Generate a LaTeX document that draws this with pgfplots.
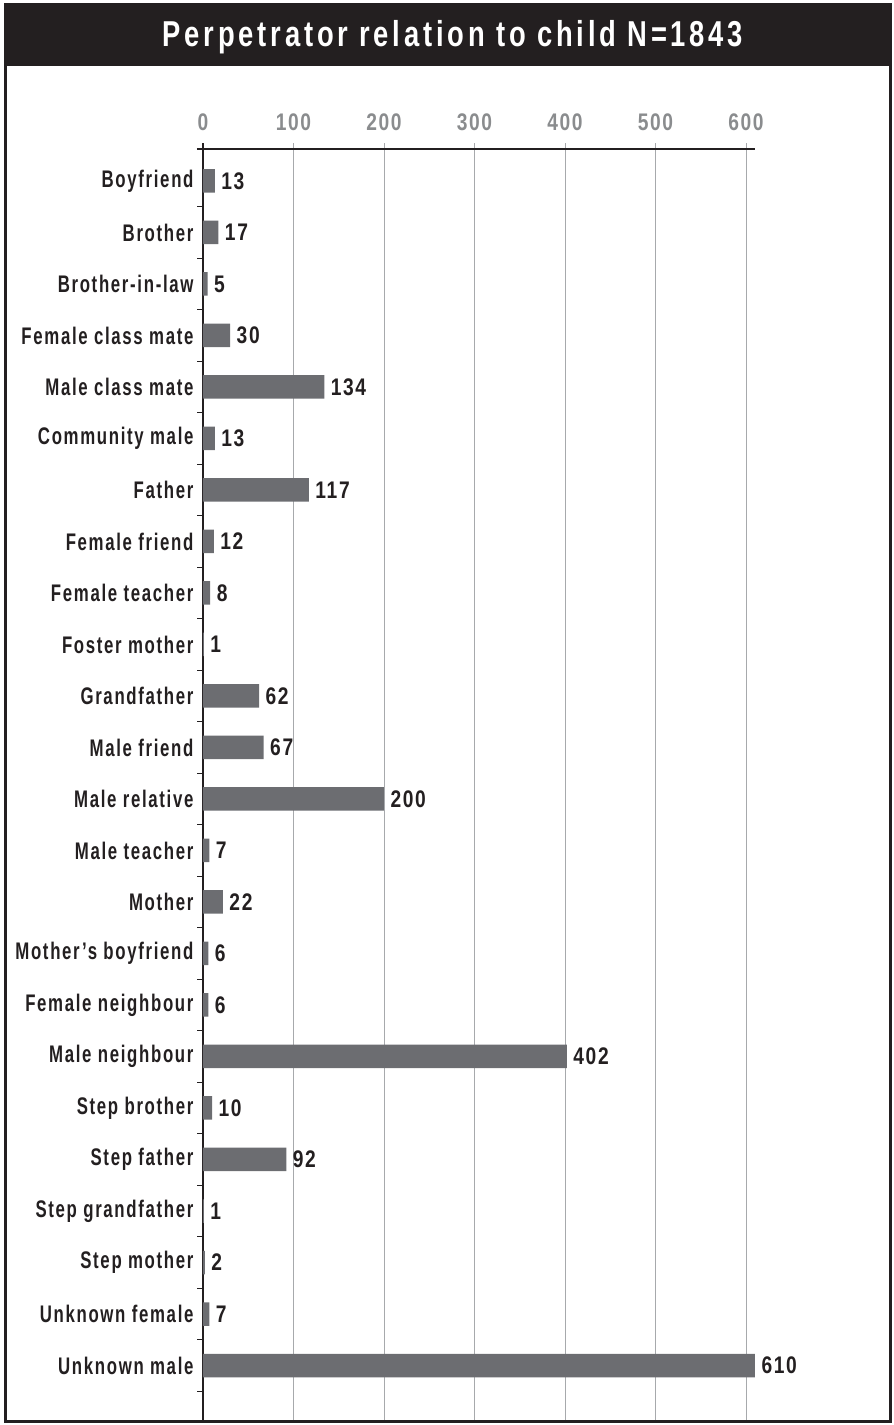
\documentclass[border=0pt]{standalone}
\usepackage{pgfplots}
\pgfplotsset{compat=1.18}
\usepackage{pgfplotstable}
\usepackage{fontspec}
\setmainfont{Liberation Sans}[FakeStretch=0.70, LetterSpace=7]
\newfontfamily\numfont{Liberation Sans}[FakeStretch=0.80, LetterSpace=7]
\newfontfamily\titlefont{Liberation Sans}[FakeStretch=0.76, LetterSpace=10.5]

\definecolor{barcol}{RGB}{108,109,113}
\definecolor{titlebg}{RGB}{35,31,32}
\definecolor{gridcol}{RGB}{167,169,172}
\definecolor{ticklab}{RGB}{138,140,142}
\definecolor{ink}{RGB}{35,31,32}

% position 23 = top row (Boyfriend), 0 = bottom row (Unknown male)
\pgfplotstableread{
pos count
23 13
22 17
21 5
20 30
19 134
18 13
17 117
16 12
15 8
14 1
13 62
12 67
11 200
10 7
9 22
8 6
7 6
6 402
5 10
4 92
3 1
2 2
1 7
0 610
}\perpdata

\begin{document}
\begin{tikzpicture}
\useasboundingbox (0,0) rectangle (894pt,-1425pt);
\fill[titlebg] (5pt,-4pt) rectangle (890pt,-66pt);
\node[anchor=base, text=white, font=\titlefont\bfseries\fontsize{36}{40}\selectfont]
  at (453pt,-46.7pt) {Perpetrator relation to child N=1843};

\begin{axis}[
    at={(203pt,-1421pt)}, anchor=south west,
    scale only axis,
    width=552pt, height=1271.7pt,
    xbar, bar width=23.5pt,
    xmin=0, xmax=610,
    ymin=-1.078, ymax=23.615,
    enlargelimits=false,
    clip=false,
    axis x line*=top,
    axis y line*=left,
    axis line style={line width=2pt, ink},
    x axis line style={shorten <=-6pt},
    y axis line style={shorten >=-6pt},
    xtick={0,100,...,600},
    xmajorgrids,
    grid style={gridcol, line width=0.8pt},
    tick align=outside,
    major tick length=6pt,
    minor tick length=6pt,
    x tick style={gridcol, line width=0.8pt},
    xticklabel style={text=ticklab, yshift=9pt,
      font=\numfont\bfseries\fontsize{24}{27}\selectfont},
    ytick={0,...,23},
    yticklabels={Unknown male, Unknown female, Step mother, Step grandfather,
      Step father, Step brother, Male neighbour, Female neighbour,
      Mother’s boyfriend, Mother, Male teacher, Male relative, Male friend,
      Grandfather, Foster mother, Female teacher, Female friend, Father,
      Community male, Male class mate, Female class mate, Brother-in-law,
      Brother, Boyfriend},
    major y tick style={draw=none},
    minor ytick={-0.5,0.5,...,22.5},
    minor y tick style={ink, line width=1.2pt},
    yticklabel style={text=ink, font=\bfseries\fontsize{24}{27}\selectfont},
    /pgf/number format/assume math mode=true,
    nodes near coords,
    point meta=explicit,
    every node near coord/.append style={anchor=west, text=ink, xshift=3pt,
      font=\numfont\bfseries\fontsize{24}{27}\selectfont},
  ]
  \addplot[fill=barcol, draw=none] table[x=count, y=pos, meta=count] {\perpdata};
\end{axis}

\draw[line width=3pt, ink] (5pt,-4pt) rectangle (890pt,-1421pt);
\end{tikzpicture}
\end{document}
